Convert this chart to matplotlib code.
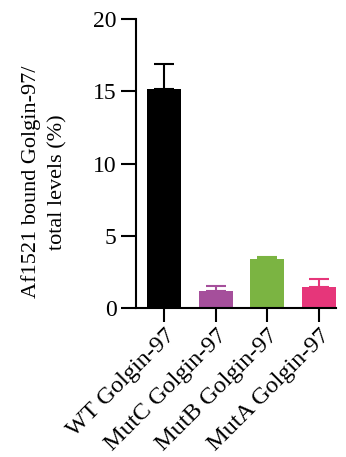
import numpy as np
import matplotlib.pyplot as plt

plt.rcParams["font.family"] = "serif"
plt.rcParams["font.serif"] = ["Liberation Serif", "Times New Roman", "DejaVu Serif"]

# Data
groups = ["WT Golgin-97", "MutC Golgin-97", "MutB Golgin-97", "MutA Golgin-97"]
means = [15.2, 1.2, 3.37, 1.43]
errors = [1.7, 0.3, 0.17, 0.55]
colors = ["#000000", "#A54F9B", "#7BB442", "#E6367A"]

fig = plt.figure(figsize=(3.46, 4.57), dpi=100)
ax = fig.add_axes([0.393, 0.326, 0.578, 0.632])

x = np.arange(len(groups))
ax.bar(x, means, width=0.66, color=colors)
# upper error bars only
for xi, m, e, c in zip(x, means, errors, colors):
    ax.errorbar(xi, m, yerr=[[0], [e]], fmt="none", ecolor=c,
                elinewidth=1.5, capsize=7, capthick=1.5)

ax.set_xlim(-0.55, 3.33)
ax.set_ylim(0, 20)
ax.set_yticks([0, 5, 10, 15, 20])
ax.set_xticks(x)
ax.set_xticklabels(groups, rotation=45, ha="right", rotation_mode="anchor", fontsize=17.5)

for s in ["top", "right"]:
    ax.spines[s].set_visible(False)
for s in ["left", "bottom"]:
    ax.spines[s].set_linewidth(1.5)
ax.tick_params(axis="y", length=11, width=1.5, labelsize=17, pad=3)
ax.tick_params(axis="x", length=10, width=1.5, pad=2)

ax.set_ylabel("Af1521 bound Golgin-97/\ntotal levels (%)", fontsize=16, linespacing=1.55)
ax.yaxis.set_label_coords(-0.34, 0.436)

fig.savefig("out.png", dpi=100)
